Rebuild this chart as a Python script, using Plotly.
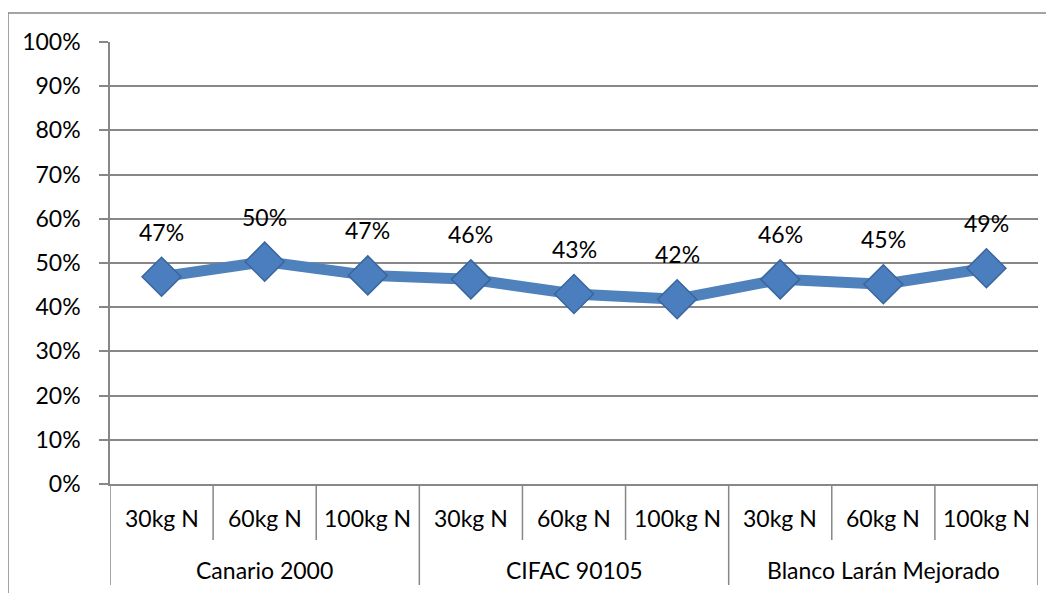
import plotly.graph_objects as go

group_names = ["Canario 2000", "CIFAC 90105", "Blanco Larán Mejorado"]
levels = ["30kg N", "60kg N", "100kg N"]
values = [0.469, 0.503, 0.472, 0.463, 0.43, 0.418, 0.463, 0.452, 0.488]

n_per = len(levels)
n = len(values)
xs = list(range(n))
cat_labels = levels * len(group_names)

FONT = "Lato"
FS = 23
GRID = "#878787"
BLUE = "#4F81BD"

# plot-area geometry (px) used to place axis decorations
PLOT_H = 442
inner_lab_y = -34 / PLOT_H
group_lab_y = -86 / PLOT_H
inner_sep_y = -56 / PLOT_H
group_sep_y = -101 / PLOT_H

fig = go.Figure()
fig.add_trace(go.Scatter(
    x=xs, y=values, mode="lines+markers",
    line=dict(color=BLUE, width=11),
    marker=dict(symbol="diamond", size=30, color="#4A7EBF",
                line=dict(color="#3A669C", width=1.5)),
    hoverinfo="skip", showlegend=False,
))

# data labels
for x, v in zip(xs, values):
    fig.add_annotation(x=x, y=v, text=f"{round(v*100)}%", showarrow=False,
                       yshift=45, font=dict(family=FONT, size=FS, color="#000"))

# inner category labels
for x, lab in zip(xs, cat_labels):
    fig.add_annotation(x=x, y=inner_lab_y, xref="x", yref="paper", text=lab,
                       showarrow=False, yanchor="middle",
                       font=dict(family=FONT, size=FS, color="#000"))

# group labels
for g, name in enumerate(group_names):
    fig.add_annotation(x=g * n_per + (n_per - 1) / 2, y=group_lab_y, xref="x",
                       yref="paper", text=name, showarrow=False, yanchor="middle",
                       font=dict(family=FONT, size=FS, color="#000"))

# separators
for b in range(n + 1):
    is_group = (b % n_per == 0)
    fig.add_shape(type="line", xref="x", yref="paper",
                  x0=b - 0.5, x1=b - 0.5, y0=0,
                  y1=group_sep_y if is_group else inner_sep_y,
                  line=dict(color=GRID, width=1.5))

# outer chart frame
fig.add_shape(type="rect", xref="paper", yref="paper",
              x0=-0.1099, x1=1.2, y0=-0.4, y1=1.0656,
              line=dict(color=GRID, width=1.5), layer="below")

fig.update_layout(
    width=1054, height=593,
    margin=dict(l=102, r=24, t=34, b=117, autoexpand=False),
    paper_bgcolor="white", plot_bgcolor="white",
    font=dict(family=FONT, size=FS, color="#000"),
    xaxis=dict(range=[-0.5, n - 0.5], showticklabels=False, ticks="",
               showgrid=False, zeroline=False, showline=True,
               linecolor=GRID, linewidth=1.5, automargin=False, fixedrange=True),
    yaxis=dict(range=[0, 1], dtick=0.1, tickformat=".0%", showgrid=True,
               gridcolor=GRID, gridwidth=1.5, showline=True, linecolor=GRID,
               linewidth=1.5, ticks="outside", ticklen=9, tickcolor=GRID,
               tickwidth=1.5, zeroline=False, automargin=False,
               ticklabelstandoff=14, tickfont=dict(family=FONT, size=FS)),
)

fig.write_html("out.html")
